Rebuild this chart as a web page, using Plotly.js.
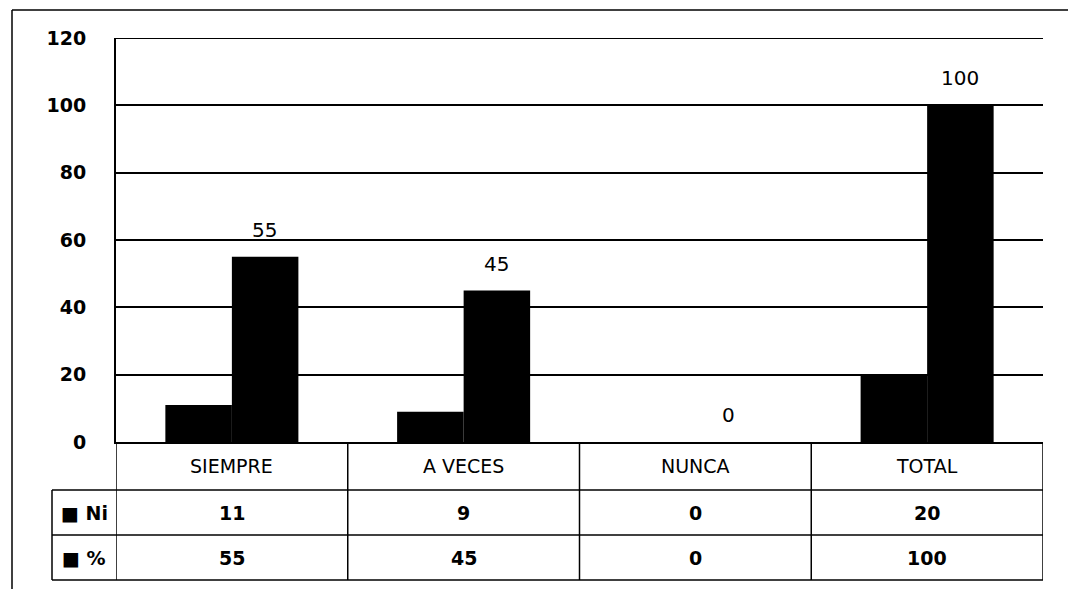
<!DOCTYPE html>
<html>
<head>
<meta charset="utf-8">
<script src="https://cdn.plot.ly/plotly-3.0.1.min.js"></script>
<style>html,body{margin:0;padding:0;background:#fff;}#chart{width:1068px;height:589px;}</style>
</head>
<body>
<div id="chart"></div>
<script>
// ---- data ----
const categories = ['SIEMPRE', 'A VECES', 'NUNCA', 'TOTAL'];
const niValues = [11, 9, 0, 20];
const pctValues = [55, 45, 0, 100];
const seriesNames = ['Ni', '%'];
const yTicks = [0, 20, 40, 60, 80, 100, 120];

// ---- layout constants (pixels -> paper) ----
const W = 1068, H = 589;
const mL = 116, mR = 25, mT = 38, mB = 147;
const plotW = W - mL - mR, plotH = H - mT - mB;
const px2x = p => (p - mL) / plotW;
const py2y = p => (H - mB - p) / plotH;

const FONT = 'DejaVu Sans, Liberation Sans, sans-serif';

const traces = [
  {
    type: 'bar', name: seriesNames[0], x: categories, y: niValues,
    marker: {color: '#000000', line: {width: 0}}, hoverinfo: 'skip'
  },
  {
    type: 'bar', name: seriesNames[1], x: categories, y: pctValues,
    marker: {color: '#000000', line: {width: 0}}, hoverinfo: 'skip'
  }
];

const rowTop = py2y(442), row1 = py2y(490), row2 = py2y(535), row3 = py2y(580);
const legX = px2x(52);

const shapes = [];
const lineStyle = {color: '#000', width: 1.5};
// top gridline at axis maximum
shapes.push({type: 'line', xref: 'paper', yref: 'y', x0: 0, x1: 1, y0: yTicks[yTicks.length - 1], y1: yTicks[yTicks.length - 1], line: {color: '#000', width: 2}});
// table horizontal lines
[row1, row2, row3].forEach(y => shapes.push({type: 'line', xref: 'paper', yref: 'paper', x0: legX, x1: 1, y0: y, y1: y, line: lineStyle}));
// table vertical lines at category boundaries
for (let i = 0; i <= categories.length; i++) {
  shapes.push({type: 'line', xref: 'x', yref: 'paper', x0: i - 0.5, x1: i - 0.5, y0: rowTop, y1: row3, line: lineStyle});
}
// legend column left edge
shapes.push({type: 'line', xref: 'paper', yref: 'paper', x0: legX, x1: legX, y0: row1, y1: row3, line: lineStyle});
// outer chart border (top & left)
shapes.push({type: 'line', xref: 'paper', yref: 'paper', x0: px2x(12), x1: px2x(1080), y0: py2y(10), y1: py2y(10), line: {color: '#000', width: 1.5}});
shapes.push({type: 'line', xref: 'paper', yref: 'paper', x0: px2x(12), x1: px2x(12), y0: py2y(10), y1: py2y(600), line: {color: '#000', width: 1.5}});

const annotations = [];
// data labels above the % bars
categories.forEach((c, i) => {
  annotations.push({xref: 'x', yref: 'y', x: c, y: pctValues[i], text: String(pctValues[i]), showarrow: false,
    xshift: 33, yshift: 27, font: {family: FONT, size: 20, color: '#000'}, xanchor: 'center', yanchor: 'middle'});
});
const rowMid = [(rowTop + row1) / 2, (row1 + row2) / 2, (row2 + row3) / 2];
categories.forEach((c, i) => {
  annotations.push({xref: 'x', yref: 'paper', x: c, y: rowMid[0], text: c, showarrow: false,
    font: {family: FONT, size: 19, color: '#000'}, xanchor: 'center', yanchor: 'middle'});
  annotations.push({xref: 'x', yref: 'paper', x: c, y: rowMid[1], text: String(niValues[i]), showarrow: false,
    font: {family: FONT, size: 19, color: '#000', weight: 'bold'}, xanchor: 'center', yanchor: 'middle'});
  annotations.push({xref: 'x', yref: 'paper', x: c, y: rowMid[2], text: String(pctValues[i]), showarrow: false,
    font: {family: FONT, size: 19, color: '#000', weight: 'bold'}, xanchor: 'center', yanchor: 'middle'});
});
seriesNames.forEach((n, k) => {
  annotations.push({xref: 'paper', yref: 'paper', x: legX / 2, y: rowMid[k + 1], text: '■ ' + n, showarrow: false,
    font: {family: FONT, size: 19, color: '#000', weight: 'bold'}, xanchor: 'center', yanchor: 'middle'});
});

const layout = {
  width: W, height: H,
  margin: {l: mL, r: mR, t: mT, b: mB, pad: 0},
  paper_bgcolor: '#fff', plot_bgcolor: '#fff',
  showlegend: false,
  barmode: 'group', bargap: 0.426, bargroupgap: 0,
  xaxis: {type: 'category', showticklabels: false, ticks: '', showgrid: false, zeroline: false,
    showline: true, linecolor: '#000', linewidth: 2, range: [-0.5, categories.length - 0.5], fixedrange: true},
  yaxis: {range: [0, 120], tickvals: yTicks, ticktext: yTicks.map(String), showgrid: true, gridcolor: '#000', gridwidth: 2,
    zeroline: false, showline: true, linecolor: '#000', linewidth: 2, ticks: '', ticklabelstandoff: 24,
    tickfont: {family: FONT, size: 19, color: '#000', weight: 'bold'}, fixedrange: true},
  shapes: shapes,
  annotations: annotations,
  font: {family: FONT, color: '#000'}
};

Plotly.newPlot('chart', traces, layout, {staticPlot: true, displayModeBar: false});
</script>
</body>
</html>
